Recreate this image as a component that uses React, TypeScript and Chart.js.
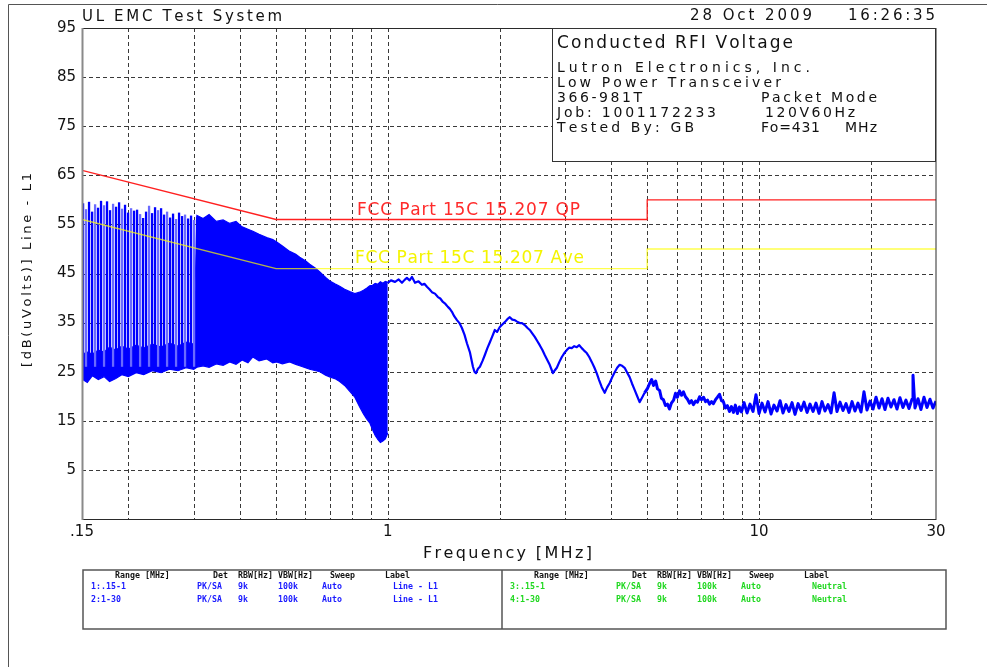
import React, { useEffect, useRef } from 'react';
import { Chart, registerables } from 'chart.js';

Chart.register(...registerables);

// FCC Part 15C 15.207 conducted limits (MHz, dBuV)
const limitFreq = [0.15, 0.5, 5, 5, 30];
const qpLimit = [66, 56, 56, 60, 60];
const avgLimit = [56, 46, 46, 50, 50];

// 0.15 - 1 MHz sweep: lower and upper edge of the dense trace
const bandFreq = [0.150, 0.155, 0.160, 0.166, 0.172, 0.178, 0.185, 0.192, 0.200, 0.210, 0.220, 0.232, 0.245, 0.258, 0.272, 0.286, 0.300, 0.306, 0.318, 0.330, 0.345, 0.360, 0.375, 0.390, 0.405, 0.420, 0.433, 0.450, 0.472, 0.490, 0.502, 0.520, 0.544, 0.565, 0.579, 0.600, 0.616, 0.640, 0.656, 0.680, 0.700, 0.720, 0.742, 0.765, 0.790, 0.815, 0.840, 0.860, 0.877, 0.894, 0.910, 0.925, 0.940, 0.955, 0.970, 0.985, 1.000];
const bandLow = [23.5, 22.8, 24.2, 23.4, 24.0, 23.0, 23.6, 24.4, 24.0, 24.8, 24.4, 25.2, 24.8, 25.5, 25.2, 25.8, 25.5, 25.9, 26.2, 25.9, 26.6, 26.3, 27.0, 26.5, 27.4, 26.8, 28.0, 27.2, 27.6, 26.8, 27.0, 26.6, 27.0, 26.5, 26.2, 25.8, 25.5, 25.2, 25.0, 24.3, 23.9, 23.6, 23.0, 22.2, 21.0, 19.8, 17.8, 16.4, 15.4, 14.6, 13.2, 12.0, 11.2, 10.6, 10.9, 11.3, 12.5];
const bandHigh = [28.5, 29.0, 28.6, 29.4, 29.0, 30.0, 29.4, 30.2, 29.6, 30.4, 29.8, 30.6, 30.0, 30.8, 30.2, 31.0, 30.6, 56.8, 56.2, 57.0, 55.6, 55.9, 55.2, 55.6, 54.5, 54.0, 53.6, 53.0, 52.3, 51.9, 51.4, 50.6, 49.5, 48.9, 48.3, 47.6, 46.9, 46.0, 45.3, 44.2, 43.4, 42.9, 42.4, 41.8, 41.3, 40.9, 41.2, 41.6, 42.0, 42.5, 42.6, 43.0, 42.8, 43.3, 43.0, 43.4, 43.2];

// Emission lines rising out of the noise floor below 0.31 MHz
const spikeBase = 26;
const spikeFreq = [0.151, 0.1538, 0.1567, 0.1597, 0.1627, 0.1657, 0.1688, 0.172, 0.1752, 0.1785, 0.1819, 0.1853, 0.1888, 0.1923, 0.1959, 0.1996, 0.2034, 0.2072, 0.2111, 0.2151, 0.2191, 0.2232, 0.2274, 0.2317, 0.236, 0.2405, 0.245, 0.2496, 0.2543, 0.2591, 0.2639, 0.2689, 0.2739, 0.2791, 0.2843, 0.2897, 0.2951, 0.3007, 0.3063, 0.3121];
const spikeTop = [59.3, 58.1, 59.6, 57.6, 59.1, 58.4, 59.8, 58.9, 59.7, 57.9, 59.2, 58.6, 59.5, 58.2, 59.0, 57.4, 58.3, 57.8, 58.0, 57.1, 56.3, 57.6, 58.8, 57.3, 58.5, 57.9, 58.3, 57.0, 57.6, 56.4, 57.2, 56.1, 57.4, 56.7, 57.0, 56.2, 56.8, 55.9, 56.6, 56.0];

// 1 - 4.92 MHz trace
const hfFreq = [1.0, 1.02, 1.046, 1.07, 1.092, 1.11, 1.126, 1.145, 1.162, 1.184, 1.21, 1.236, 1.255, 1.275, 1.295, 1.315, 1.34, 1.365, 1.385, 1.408, 1.43, 1.452, 1.47, 1.489, 1.51, 1.536, 1.56, 1.584, 1.61, 1.634, 1.664, 1.696, 1.712, 1.728, 1.75, 1.771, 1.8, 1.826, 1.855, 1.884, 1.91, 1.943, 1.97, 2.004, 2.035, 2.067, 2.10, 2.132, 2.165, 2.199, 2.23, 2.268, 2.30, 2.339, 2.38, 2.413, 2.45, 2.489, 2.53, 2.567, 2.61, 2.648, 2.69, 2.731, 2.76, 2.785, 2.82, 2.854, 2.90, 2.944, 2.99, 3.036, 3.08, 3.131, 3.18, 3.23, 3.28, 3.331, 3.38, 3.436, 3.49, 3.544, 3.60, 3.655, 3.71, 3.77, 3.841, 3.90, 3.962, 4.02, 4.086, 4.15, 4.215, 4.28, 4.347, 4.41, 4.484, 4.55, 4.625, 4.70, 4.77, 4.85, 4.92];
const hfLevel = [43.1, 43.6, 43.3, 43.8, 43.1, 43.7, 44.1, 43.6, 44.3, 43.1, 43.4, 42.7, 42.9, 42.3, 41.8, 41.2, 40.9, 40.2, 39.9, 39.2, 38.8, 38.2, 37.8, 37.2, 36.3, 35.5, 34.9, 33.9, 32.5, 30.8, 29.0, 26.0, 25.0, 24.7, 25.6, 26.0, 27.2, 28.4, 29.8, 31.0, 32.1, 33.5, 33.1, 34.1, 34.6, 35.1, 35.7, 36.1, 35.6, 35.5, 35.2, 34.9, 34.9, 34.5, 33.9, 33.5, 32.8, 32.1, 31.2, 30.4, 29.4, 28.4, 27.4, 26.4, 25.5, 24.7, 25.3, 25.8, 27.0, 28.0, 28.8, 29.4, 29.9, 29.8, 30.2, 30.0, 30.4, 29.8, 29.3, 28.8, 28.0, 27.0, 25.9, 24.7, 23.3, 21.9, 20.7, 21.8, 22.7, 23.8, 24.9, 25.8, 26.4, 26.2, 25.8, 24.9, 23.9, 22.6, 21.3, 20.0, 18.8, 19.8, 20.7];

// 4.92 - 30 MHz trace (noise floor)
const tailFreq = [4.92, 5.01, 5.075, 5.14, 5.20, 5.27, 5.33, 5.40, 5.46, 5.53, 5.60, 5.67, 5.74, 5.81, 5.89, 5.96, 6.03, 6.11, 6.19, 6.26, 6.34, 6.42, 6.50, 6.58, 6.66, 6.75, 6.83, 6.92, 7.0, 7.09, 7.18, 7.27, 7.36, 7.45, 7.54, 7.64, 7.73, 7.83, 7.93, 8.02, 8.12, 8.22, 8.33, 8.43, 8.54, 8.64, 8.75, 8.86, 8.97, 9.12, 9.29, 9.46, 9.64, 9.82, 10.01, 10.19, 10.39, 10.58, 10.78, 10.98, 11.19, 11.4, 11.61, 11.83, 12.05, 12.28, 12.51, 12.75, 12.99, 13.23, 13.48, 13.73, 13.99, 14.25, 14.52, 14.79, 15.07, 15.35, 15.64, 15.94, 16.23, 16.54, 16.85, 17.17, 17.49, 17.82, 18.15, 18.49, 18.84, 19.19, 19.55, 19.92, 20.3, 20.68, 21.07, 21.46, 21.86, 22.27, 22.69, 23.12, 23.55, 23.99, 24.44, 24.9, 25.37, 25.85, 26.01, 26.33, 26.83, 27.33, 27.84, 28.37, 28.9, 29.44, 30.0];
const tailLevel = [20.7, 21.6, 22.6, 23.4, 22.2, 23.1, 21.5, 21.2, 19.6, 19.3, 18.1, 18.4, 17.4, 18.6, 19.2, 20.6, 19.8, 21.1, 20.2, 20.9, 19.9, 19.4, 18.6, 19.1, 18.3, 19.0, 18.8, 19.9, 19.3, 19.8, 18.9, 19.2, 18.4, 18.9, 18.5, 19.3, 19.8, 20.4, 19.1, 18.9, 17.6, 18.1, 16.9, 17.9, 16.7, 18.2, 16.5, 17.8, 16.8, 18.7, 16.6, 18.4, 16.9, 20.3, 16.5, 18.6, 16.8, 18.9, 16.4, 18.2, 17.0, 19.1, 16.6, 18.3, 16.9, 18.7, 16.3, 18.5, 17.1, 18.8, 16.7, 18.4, 16.9, 18.6, 16.5, 18.9, 17.0, 18.3, 16.6, 20.7, 16.9, 18.8, 17.1, 18.5, 16.7, 18.9, 17.0, 18.6, 16.8, 20.9, 17.2, 19.0, 17.4, 19.8, 17.6, 19.5, 17.3, 19.6, 17.8, 19.3, 17.4, 19.7, 17.7, 19.2, 17.5, 19.4, 24.3, 17.6, 19.5, 17.3, 19.8, 17.7, 19.4, 17.6, 19.0];

// Axes
const xGridValues = [0.15, 0.2, 0.3, 0.4, 0.5, 0.6, 0.7, 0.8, 0.9, 1, 2, 3, 4, 5, 6, 7, 8, 9, 10, 20, 30];
const xLabelValues = [0.15, 1, 10, 30];
const xLabelText = ['.15', '1', '10', '30'];
const yTicks = [-5, 5, 15, 25, 35, 45, 55, 65, 75, 85, 95];

// Scan settings table
const tableHeader = ['Range [MHz]', 'Det', 'RBW[Hz]', 'VBW[Hz]', 'Sweep', 'Label'];
const lineRows = [
  ['1:.15-1', 'PK/SA', '9k', '100k', 'Auto', 'Line - L1'],
  ['2:1-30', 'PK/SA', '9k', '100k', 'Auto', 'Line - L1'],
];
const neutralRows = [
  ['3:.15-1', 'PK/SA', '9k', '100k', 'Auto', 'Neutral'],
  ['4:1-30', 'PK/SA', '9k', '100k', 'Auto', 'Neutral'],
];

const BLUE = '#0000ff';
const PALE_BLUE = '#6a6aff';
const FAMILY = '"DejaVu Sans"';

const pts = (fs: number[], vs: number[]) => fs.map((f, i) => ({ x: f, y: vs[i] }));
const spikePts = spikeFreq.flatMap((f, i) => [
  { x: f, y: spikeBase },
  { x: f, y: spikeTop[i] },
  { x: f, y: null as number | null },
]);

// Draws text so that it spans the given width (letter-spaced or condensed)
function fitText(ctx: CanvasRenderingContext2D, text: string, x: number, y: number, width: number, size: number, color: string, weight = 'normal') {
  ctx.save();
  ctx.font = `${weight} ${size}px ${FAMILY}`;
  ctx.fillStyle = color;
  ctx.textAlign = 'left';
  ctx.textBaseline = 'alphabetic';
  const chars = Array.from(text);
  const adv = chars.map((c) => ctx.measureText(c).width);
  const natural = adv.reduce((s, w) => s + w, 0);
  if (natural >= width || chars.length < 2) {
    ctx.translate(x, y);
    ctx.scale(width / natural, 1);
    ctx.fillText(text, 0, 0);
  } else {
    const gap = (width - natural) / (chars.length - 1);
    let cx = x;
    chars.forEach((c, i) => {
      ctx.fillText(c, cx, y);
      cx += adv[i] + gap;
    });
  }
  ctx.restore();
}

function tableText(ctx: CanvasRenderingContext2D, text: string, x: number, y: number, color: string) {
  ctx.save();
  ctx.font = `bold 9px "DejaVu Sans Mono"`;
  ctx.fillStyle = color;
  ctx.translate(x, y);
  ctx.scale(0.92, 1);
  ctx.fillText(text, 0, 0);
  ctx.restore();
}

const sheetPlugin = {
  id: 'sheet',
  beforeDatasetsDraw(chart: any) {
    const { ctx, chartArea: a } = chart;
    const xs = chart.scales.x;
    const ys = chart.scales.y;
    ctx.save();
    ctx.strokeStyle = '#3a3a3a';
    ctx.lineWidth = 1;
    ctx.setLineDash([4, 3]);
    xGridValues.slice(1, -1).forEach((v) => {
      const px = Math.round(xs.getPixelForValue(v)) + 0.5;
      ctx.beginPath();
      ctx.moveTo(px, a.top);
      ctx.lineTo(px, a.bottom);
      ctx.stroke();
    });
    yTicks.slice(1, -1).forEach((v) => {
      const py = Math.round(ys.getPixelForValue(v)) + 0.5;
      ctx.beginPath();
      ctx.moveTo(a.left, py);
      ctx.lineTo(a.right, py);
      ctx.stroke();
    });
    ctx.restore();
  },
  afterDraw(chart: any) {
    const { ctx, chartArea: a } = chart;
    ctx.save();

    // sheet frame
    ctx.strokeStyle = '#555';
    ctx.lineWidth = 1;
    ctx.beginPath();
    ctx.moveTo(8.5, 667);
    ctx.lineTo(8.5, 4.5);
    ctx.lineTo(987, 4.5);
    ctx.stroke();

    // plot frame
    ctx.strokeStyle = '#2a2a2a';
    ctx.lineWidth = 1;
    ctx.strokeRect(a.left + 0.5, a.top + 0.5, a.right - a.left - 0.5, a.bottom - a.top);
    ctx.strokeStyle = '#8a8a8a';
    ctx.lineWidth = 2;
    ctx.beginPath();
    ctx.moveTo(a.left + 0.5, a.top);
    ctx.lineTo(a.left + 0.5, a.bottom + 1);
    ctx.stroke();

    // header
    fitText(ctx, 'UL EMC Test System', 82, 21, 200, 15, '#111');
    fitText(ctx, '28 Oct 2009', 690, 20, 122, 15, '#111');
    fitText(ctx, '16:26:35', 848, 20, 87, 15, '#111');

    // description box
    ctx.fillStyle = '#fff';
    ctx.fillRect(552, 28, 384, 134);
    ctx.strokeStyle = '#333';
    ctx.lineWidth = 1;
    ctx.strokeRect(552.5, 28.5, 383, 133);
    fitText(ctx, 'Conducted RFI Voltage', 557, 48, 236, 17, '#111');
    fitText(ctx, 'Lutron Electronics, Inc.', 557, 72, 253, 14, '#111');
    fitText(ctx, 'Low Power Transceiver', 557, 87, 224, 14, '#111');
    fitText(ctx, '366-981T', 557, 102, 85, 14, '#111');
    fitText(ctx, 'Packet Mode', 761, 102, 116, 14, '#111');
    fitText(ctx, 'Job: 1001172233', 557, 117, 159, 14, '#111');
    fitText(ctx, '120V60Hz', 765, 117, 90, 14, '#111');
    fitText(ctx, 'Tested By: GB', 557, 132, 137, 14, '#111');
    fitText(ctx, 'Fo=431', 761, 132, 59, 14, '#111');
    fitText(ctx, 'MHz', 845, 132, 32, 14, '#111');

    // limit captions
    fitText(ctx, 'FCC Part 15C 15.207 QP', 357, 215, 223, 17, '#ff2a2a');
    fitText(ctx, 'FCC Part 15C 15.207 Ave', 355, 263, 229, 17, '#f4f400');

    // axis titles
    ctx.save();
    ctx.translate(31, 367);
    ctx.rotate(-Math.PI / 2);
    fitText(ctx, '[dB(uVolts)] Line - L1', 0, 0, 194, 13, '#111');
    ctx.restore();
    fitText(ctx, 'Frequency [MHz]', 423, 558, 169, 16, '#111');

    // scan settings table
    ctx.strokeStyle = '#555';
    ctx.lineWidth = 1.5;
    ctx.strokeRect(83, 570, 863, 59);
    ctx.beginPath();
    ctx.moveTo(502, 570);
    ctx.lineTo(502, 629);
    ctx.stroke();
    const headX = [32, 130, 155, 195, 247, 302];
    const rowX = [8, 114, 155, 195, 239, 310];
    const blocks: [number, string[][], string][] = [
      [83, lineRows, '#1a1aff'],
      [502, neutralRows, '#20d820'],
    ];
    blocks.forEach(([left, rows, color]) => {
      tableHeader.forEach((h, i) => tableText(ctx, h, left + headX[i], 578, '#111'));
      rows.forEach((row, r) => {
        row.forEach((cell, i) => tableText(ctx, cell, left + rowX[i], 589 + r * 13, color));
      });
    });

    ctx.restore();
  },
};

export default function App() {
  const ref = useRef<HTMLCanvasElement>(null);

  useEffect(() => {
    if (!ref.current) return;
    const chart = new Chart(ref.current, {
      type: 'line',
      data: {
        datasets: [
          {
            label: 'QP limit',
            data: pts(limitFreq, qpLimit),
            borderColor: '#ff2020',
            borderWidth: 1.3,
            pointRadius: 0,
            order: 0,
          },
          {
            label: 'Average limit',
            data: pts(limitFreq, avgLimit),
            borderColor: 'rgba(255,255,0,0.7)',
            borderWidth: 1.4,
            pointRadius: 0,
            order: 0,
          },
          {
            label: 'Band low',
            data: pts(bandFreq, bandLow),
            borderColor: BLUE,
            borderWidth: 1.2,
            pointRadius: 0,
            order: 3,
          },
          {
            label: 'Band high',
            data: pts(bandFreq, bandHigh),
            borderColor: BLUE,
            borderWidth: 1.2,
            backgroundColor: BLUE,
            fill: 2,
            pointRadius: 0,
            order: 3,
          },
          {
            label: 'Emission lines',
            data: spikePts as any,
            borderColor: BLUE,
            borderWidth: 2.3,
            pointRadius: 0,
            spanGaps: false,
            segment: {
              borderColor: (c: any) => (Math.floor(c.p0DataIndex / 3) % 3 === 1 ? PALE_BLUE : BLUE),
            },
            order: 2,
          },
          {
            label: 'Line L1 1-5 MHz',
            data: pts(hfFreq, hfLevel),
            borderColor: BLUE,
            borderWidth: 2.2,
            borderJoinStyle: 'round',
            pointRadius: 0,
            order: 1,
          },
          {
            label: 'Line L1 5-30 MHz',
            data: pts(tailFreq, tailLevel),
            borderColor: BLUE,
            borderWidth: 3,
            borderJoinStyle: 'round',
            pointRadius: 0,
            order: 1,
          },
        ] as any,
      },
      options: {
        responsive: false,
        animation: false,
        devicePixelRatio: 1,
        events: [],
        layout: { padding: { left: 0, right: 51, top: 28, bottom: 118 } },
        plugins: { legend: { display: false }, tooltip: { enabled: false } },
        elements: { line: { tension: 0 } },
        scales: {
          x: {
            type: 'logarithmic',
            min: 0.15,
            max: 30,
            grid: { display: false, drawTicks: false },
            border: { display: false },
            afterBuildTicks: (s: any) => {
              s.ticks = xGridValues.map((v) => ({ value: v }));
            },
            afterFit: (s: any) => {
              s.height = 30;
            },
            ticks: {
              autoSkip: false,
              maxRotation: 0,
              minRotation: 0,
              padding: 4,
              color: '#111',
              font: { family: 'DejaVu Sans', size: 15 },
              callback: (v: any) => {
                const i = xLabelValues.indexOf(Number(v));
                return i >= 0 ? xLabelText[i] : '';
              },
            },
          },
          y: {
            type: 'linear',
            min: -5,
            max: 95,
            grid: { display: false, drawTicks: false },
            border: { display: false },
            afterBuildTicks: (s: any) => {
              s.ticks = yTicks.map((v) => ({ value: v }));
            },
            afterFit: (s: any) => {
              s.width = 82;
            },
            ticks: {
              autoSkip: false,
              padding: 6,
              color: '#111',
              font: { family: 'DejaVu Sans', size: 15 },
              callback: (v: any) => (Number(v) < 0 ? '' : String(v)),
            },
          },
        },
      } as any,
      plugins: [sheetPlugin],
    });
    return () => chart.destroy();
  }, []);

  return (
    <div style={{ position: 'absolute', left: 0, top: 0, width: 987, height: 667, background: '#fff' }}>
      <canvas ref={ref} width={987} height={667} style={{ display: 'block', width: 987, height: 667 }} />
    </div>
  );
}
